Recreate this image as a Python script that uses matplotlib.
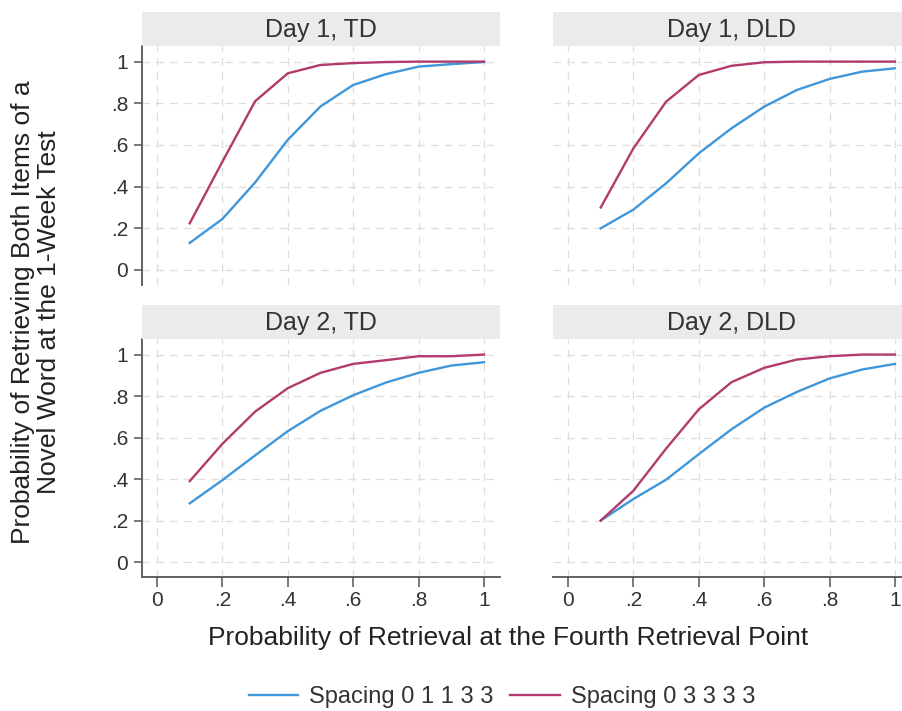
import numpy as np
import matplotlib
matplotlib.use("Agg")
import matplotlib.pyplot as plt

plt.rcParams['font.family'] = ['Liberation Sans', 'DejaVu Sans']

# Retrieval probability at the fourth retrieval point
x = [0.1, 0.2, 0.3, 0.4, 0.5, 0.6, 0.7, 0.8, 0.9, 1.0]

# Spacing 0 1 1 3 3
d1_td_a = [0.13, 0.245, 0.42, 0.625, 0.785, 0.888, 0.94, 0.976, 0.988, 0.998]
d1_dld_a = [0.20, 0.29, 0.416, 0.56, 0.68, 0.784, 0.864, 0.917, 0.952, 0.968]
d2_td_a = [0.283, 0.395, 0.514, 0.631, 0.729, 0.804, 0.865, 0.912, 0.947, 0.963]
d2_dld_a = [0.20, 0.304, 0.397, 0.52, 0.64, 0.744, 0.82, 0.885, 0.928, 0.955]

# Spacing 0 3 3 3 3
d1_td_b = [0.224, 0.52, 0.81, 0.944, 0.984, 0.993, 0.998, 1.0, 1.0, 1.0]
d1_dld_b = [0.30, 0.584, 0.808, 0.936, 0.98, 0.997, 1.0, 1.0, 1.0, 1.0]
d2_td_b = [0.39, 0.57, 0.725, 0.838, 0.912, 0.955, 0.973, 0.992, 0.992, 1.0]
d2_dld_b = [0.20, 0.344, 0.547, 0.736, 0.867, 0.936, 0.976, 0.992, 1.0, 1.0]

titles = ["Day 1, TD", "Day 1, DLD", "Day 2, TD", "Day 2, DLD"]
series_a = [d1_td_a, d1_dld_a, d2_td_a, d2_dld_a]
series_b = [d1_td_b, d1_dld_b, d2_td_b, d2_dld_b]

ticks = [0, 0.2, 0.4, 0.6, 0.8, 1]
tick_labels = ["0", ".2", ".4", ".6", ".8", "1"]

blue = "#3f97da"
red = "#b23a6c"
axis_col = "#555555"
text_col = "#333333"

W, H = 903, 711
fig = plt.figure(figsize=(W / 100, H / 100), dpi=100)

# pixel boxes (left, top, right, bottom) for each panel's plot area
boxes = [(142, 46, 500, 285), (553, 46, 911, 285),
         (142, 339, 500, 577), (553, 339, 911, 577)]
strip_h = 34

lines = []
for i, (l, t, r, b) in enumerate(boxes):
    ax = fig.add_axes([l / W, 1 - b / H, (r - l) / W, (b - t) / H])
    la, = ax.plot(x, series_a[i], color=blue, lw=1.7)
    lb, = ax.plot(x, series_b[i], color=red, lw=1.7)
    if i == 0:
        lines = [la, lb]
    ax.set_xlim(-0.046, 1.049)
    ax.set_ylim(-0.072, 1.075)
    ax.set_xticks(ticks)
    ax.set_yticks(ticks)
    ax.grid(True, color="#dddddd", linestyle=(0, (6, 5)), lw=0.9)
    ax.set_axisbelow(True)
    for s in ax.spines.values():
        s.set_visible(False)
    left = i % 2 == 0
    bottom = i >= 2
    if left:
        ax.spines['left'].set_visible(True)
        ax.spines['left'].set_color(axis_col)
        ax.spines['left'].set_linewidth(1.3)
        ax.set_yticklabels(tick_labels)
    if bottom:
        ax.spines['bottom'].set_visible(True)
        ax.spines['bottom'].set_color(axis_col)
        ax.spines['bottom'].set_linewidth(1.3)
        ax.set_xticklabels(tick_labels)
    ax.tick_params(axis='y', left=left, labelleft=left, length=6, width=1.1,
                   color=axis_col, labelsize=15, labelcolor=text_col, pad=4)
    ax.tick_params(axis='x', bottom=bottom, labelbottom=bottom, length=7,
                   width=1.1, color=axis_col, labelsize=15,
                   labelcolor=text_col, pad=3)

    # strip header
    sax = fig.add_axes([l / W, 1 - t / H, (r - l) / W, strip_h / H])
    sax.set_facecolor("#ebebeb")
    sax.set_xticks([])
    sax.set_yticks([])
    for s in sax.spines.values():
        s.set_visible(False)
    sax.text(0.5, 0.47, titles[i], ha='center', va='center', fontsize=18,
             color=text_col, transform=sax.transAxes)

fig.text(36 / W, 1 - 312 / H,
         "Probability of Retrieving Both Items of a\nNovel Word at the 1-Week Test",
         rotation=90, ha='center', va='center', fontsize=19,
         color="#222222", linespacing=1.15)
fig.text(508 / W, 1 - 638 / H,
         "Probability of Retrieval at the Fourth Retrieval Point",
         ha='center', va='center', fontsize=19, color="#222222")

fig.legend(lines, ["Spacing 0 1 1 3 3", "Spacing 0 3 3 3 3"],
           loc='center', bbox_to_anchor=(502 / W, 1 - 697 / H), ncol=2,
           frameon=False, fontsize=17, handlelength=2.1, columnspacing=0.7,
           handletextpad=0.47, labelcolor=text_col)

fig.savefig("out.png", dpi=100, facecolor="white")
